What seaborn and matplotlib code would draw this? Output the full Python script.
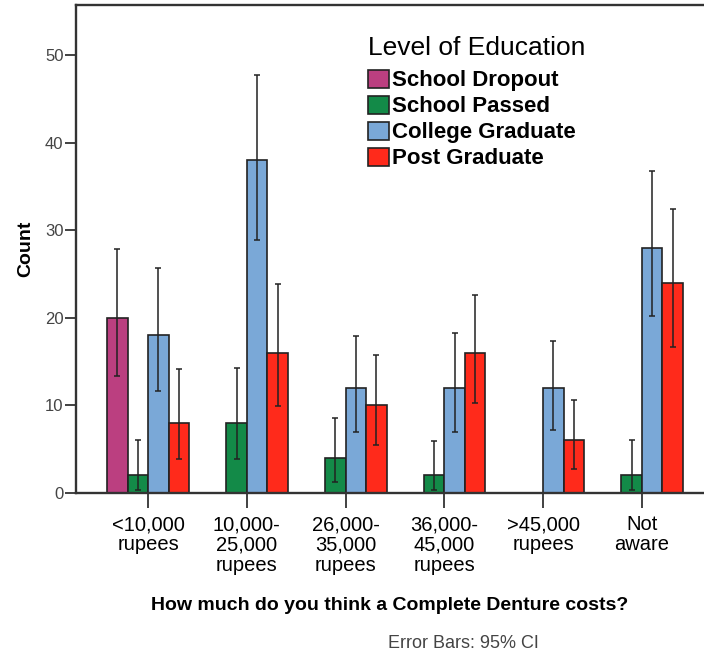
import numpy as np
import pandas as pd
import matplotlib
matplotlib.use("Agg")
import matplotlib.pyplot as plt
import seaborn as sns

categories = ["<10,000\nrupees", "10,000-\n25,000\nrupees", "26,000-\n35,000\nrupees",
              "36,000-\n45,000\nrupees", ">45,000\nrupees", "Not\naware"]
levels = ["School Dropout", "School Passed", "College Graduate", "Post Graduate"]
colors = ["#BB3F80", "#138A48", "#7AA8D7", "#FF2A1B"]

# counts per education level (None = no bar)
dropout = [20, None, None, None, None, None]
passed = [2, 8, 4, 2, None, 2]
college = [18, 38, 12, 12, 12, 28]
postgrad = [8, 16, 10, 16, 6, 24]

# 95% CI limits
dropout_lo = [13.3, None, None, None, None, None]
dropout_hi = [27.8, None, None, None, None, None]
passed_lo = [0.4, 3.9, 1.3, 0.4, None, 0.4]
passed_hi = [6.1, 14.3, 8.6, 5.9, None, 6.1]
college_lo = [11.6, 28.9, 7.0, 7.0, 7.2, 20.2]
college_hi = [25.7, 47.7, 17.9, 18.3, 17.3, 36.8]
postgrad_lo = [3.9, 9.9, 5.5, 10.3, 2.7, 16.7]
postgrad_hi = [14.1, 23.8, 15.8, 22.6, 10.6, 32.4]

series = [dropout, passed, college, postgrad]
lows = [dropout_lo, passed_lo, college_lo, postgrad_lo]
highs = [dropout_hi, passed_hi, college_hi, postgrad_hi]

rows = []
for lvl, vals, lo, hi in zip(levels, series, lows, highs):
    for cat, v, l, h in zip(categories, vals, lo, hi):
        if v is not None:
            rows.append({"cost": cat, "edu": lvl, "count": v, "lo": l, "hi": h})
df = pd.DataFrame(rows)

sns.set_theme(style="white")
plt.rcParams['font.family'] = ['Liberation Sans', 'DejaVu Sans']

fig = plt.figure(figsize=(7.04, 6.57), dpi=100)
ax = fig.add_axes([0.108, 0.2496, 0.892, 0.7428])

sns.barplot(data=df, x="cost", y="count", hue="edu", order=categories, hue_order=levels,
            palette=colors, width=0.83, errorbar=None, edgecolor="#222222", linewidth=1.2,
            saturation=1, ax=ax)

# error bars at each bar's centre
for lvl, cont in zip(levels, ax.containers):
    sub = df[df["edu"] == lvl].set_index("cost")
    for p in cont.patches:
        xc = p.get_x() + p.get_width() / 2
        cat = categories[int(round(xc))]
        if cat not in sub.index:
            continue
        r = sub.loc[cat]
        ax.errorbar(xc, r["count"], yerr=[[r["count"] - r["lo"]], [r["hi"] - r["count"]]],
                    fmt="none", ecolor="#222222", elinewidth=1.1, capsize=2, capthick=1.1, zorder=5)

ax.set_xlim(-0.73, 5.63)
ax.set_ylim(0, 55.7)
ax.set_yticks([0, 10, 20, 30, 40, 50])
for s in ["left", "top", "bottom"]:
    ax.spines[s].set_color("#333333")
    ax.spines[s].set_linewidth(1.7)
ax.spines["right"].set_visible(False)

ax.tick_params(axis="y", direction="out", length=8, width=1.3, color="#333333",
               labelsize=12, labelcolor="#444444", left=True, pad=1)
ax.tick_params(axis="x", direction="out", length=11, width=1.3, color="#333333",
               labelsize=14.5, labelcolor="#000000", bottom=True, pad=5)
for t in ax.get_xticklabels():
    t.set_linespacing(1.08)

ax.set_ylabel("Count", fontsize=14, fontweight="bold", labelpad=8, color="#000000")
ax.set_xlabel("How much do you think a Complete Denture costs?", fontsize=14,
              fontweight="bold", labelpad=16, color="#000000")

leg = ax.legend(title="Level of Education", loc="upper left", bbox_to_anchor=(0.507, 0.962),
                bbox_transform=fig.transFigure, frameon=False, prop={"size": 16, "weight": "bold"},
                title_fontsize=19, handlelength=0.95, handleheight=0.85, handletextpad=0.15,
                labelspacing=0.2, alignment="left", borderpad=0)
leg._legend_box.sep = 7
leg.get_title().set_color("#000000")
for t in leg.get_texts():
    t.set_color("#000000")

fig.text(0.551, 0.013, "Error Bars: 95% CI", fontsize=13, color="#444444")

fig.savefig("out.png", dpi=100)
